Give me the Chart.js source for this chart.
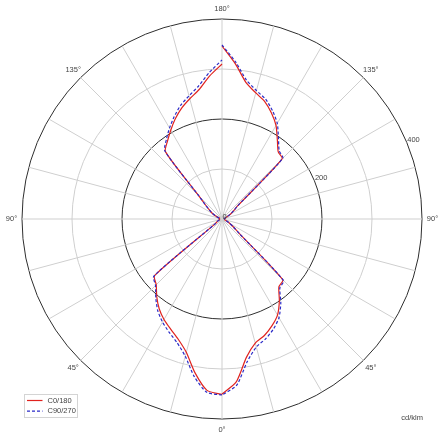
<!DOCTYPE html>
<html>
<head>
<meta charset="utf-8">
<script src="https://cdn.jsdelivr.net/npm/chart.js@4.4.1/dist/chart.umd.min.js"></script>
<style>
  html, body { margin: 0; padding: 0; background: #fff; }
  #wrap { width: 444px; height: 440px; }
</style>
</head>
<body>
<div id="wrap"><canvas id="polar"></canvas></div>
<script>
/* ============================================================
   DATOS — intensidad luminosa (cd/klm) por ángulo gamma
   ============================================================ */
const GAMMA = [0,5,10,15,20,25,30,35,40,45,50,55,60,65,70,75,80,85,90,
               95,100,105,110,115,120,125,130,135,140,145,150,155,160,165,170,175,180];

// mitad derecha (C0) y mitad izquierda (C180)
const C0   = [350,327,281,257,248,236,222,200,177,172,45,28,18,12,8,6,5,5,5,
              5,5,6,8,12,20,28,40,170,175,193,216,234,250,261,277,311,346];
const C180 = [351,344,312,276,256,243,232,219,203,186,176,16,12,9,7,5,5,5,5,
              5,5,5,8,14,22,30,42,66,176,190,205,221,236,249,263,287,310];

// mitad derecha (C90) y mitad izquierda (C270)
const C90  = [352,334,290,265,255,243,228,205,180,174,45,28,18,12,8,6,5,5,5,
              5,5,6,8,12,20,28,40,172,178,197,221,239,255,266,282,315,348];
const C270 = [352,348,320,284,263,250,238,224,206,188,178,16,12,9,7,5,5,5,5,
              5,5,5,8,14,22,30,42,66,178,194,210,226,242,255,270,294,318];

const ANGLE_LABELS  = [0, 45, 90, 135, 180];
const RADIAL_LABELS = [0, 200, 400];
const UNIT = 'cd/klm';

const FONT = '7.5px "Liberation Sans", Arial, sans-serif';
const TXT  = '#444';
const RED  = '#e0221e';
const BLUE = '#2b2bc8';

// etiquetas del radar: 0..180 por la izquierda, 175..5 por la derecha
const labels = GAMMA.concat(GAMMA.slice(1, 36).reverse());

function leftHalf(vals) {
  return labels.map((g, i) => i <= 36 ? vals[i] : null);
}
function rightHalf(vals) {
  return labels.map((g, i) => (i === 0 || i >= 36) ? vals[GAMMA.indexOf(g)] : null);
}

function lineDs(data, color, dash) {
  return {
    data,
    borderColor: color,
    borderWidth: 1.2,
    borderDash: dash,
    pointRadius: 0,
    fill: false,
    tension: 0.22,
    spanGaps: false,
  };
}

/* ============================================================
   ETIQUETAS + LEYENDA
   ============================================================ */
const decorPlugin = {
  id: 'decor',
  afterDraw(chart) {
    const ctx = chart.ctx;
    const r = chart.scales.r;
    const n = labels.length;
    const step = 360 / n;
    ctx.save();
    ctx.font = FONT;
    ctx.fillStyle = TXT;

    // ángulos
    ctx.textAlign = 'center';
    ctx.textBaseline = 'middle';
    ANGLE_LABELS.forEach(g => {
      const idx = [g / step, (n - g / step) % n];
      new Set(idx).forEach(i => {
        const p = r.getPointPosition(i, r.drawingArea + 10.5);
        ctx.fillText(g + '°', p.x, p.y);
      });
    });

    // valores radiales
    ctx.textAlign = 'left';
    RADIAL_LABELS.forEach(v => {
      const p = r.getPointPosition(n / 2 + 67.5 / step, r.getDistanceFromCenterForValue(v));
      ctx.fillText(String(v), p.x + 0.5, p.y - 2.5);
    });

    // unidad
    ctx.textAlign = 'right';
    ctx.fillText(UNIT, chart.width - 21, 418);

    // leyenda
    const lx = 24.5, ly = 394.5;
    ctx.fillStyle = '#fff';
    ctx.fillRect(lx, ly, 53, 23);
    ctx.strokeStyle = '#d4d4d4';
    ctx.lineWidth = 1;
    ctx.strokeRect(lx, ly, 53, 23);
    [['C0/180', RED, []], ['C90/270', BLUE, [3, 2]]].forEach(([txt, col, dash], k) => {
      const y = ly + 6 + k * 10.7;
      ctx.beginPath();
      ctx.setLineDash(dash);
      ctx.strokeStyle = col;
      ctx.lineWidth = 1.2;
      ctx.moveTo(lx + 2.5, y);
      ctx.lineTo(lx + 18, y);
      ctx.stroke();
      ctx.setLineDash([]);
      ctx.fillStyle = TXT;
      ctx.textAlign = 'left';
      ctx.fillText(txt, lx + 23, y);
    });
    ctx.restore();
  }
};

new Chart(document.getElementById('polar'), {
  type: 'radar',
  data: {
    labels,
    datasets: [
      lineDs(leftHalf(C270), BLUE, [3, 2]),
      lineDs(rightHalf(C90), BLUE, [3, 2]),
      lineDs(leftHalf(C180), RED, []),
      lineDs(rightHalf(C0), RED, []),
    ]
  },
  options: {
    responsive: true,
    maintainAspectRatio: false,
    animation: false,
    layout: { padding: { left: 19, right: 19, top: 19, bottom: 20 } },
    plugins: { legend: { display: false }, tooltip: { enabled: false } },
    scales: {
      r: {
        min: 0,
        max: 400,
        startAngle: 180,
        ticks: { display: false, stepSize: 100 },
        pointLabels: { display: false },
        grid: {
          circular: true,
          color: c => c.tick && c.tick.value % 200 === 0 ? '#2e2e2e' : '#cfcfcf',
          lineWidth: 1,
        },
        angleLines: {
          color: '#cfcfcf',
          lineWidth: c => c.index % 3 === 0 ? 1 : 0,
        },
      }
    }
  },
  plugins: [decorPlugin]
});
</script>
</body>
</html>
